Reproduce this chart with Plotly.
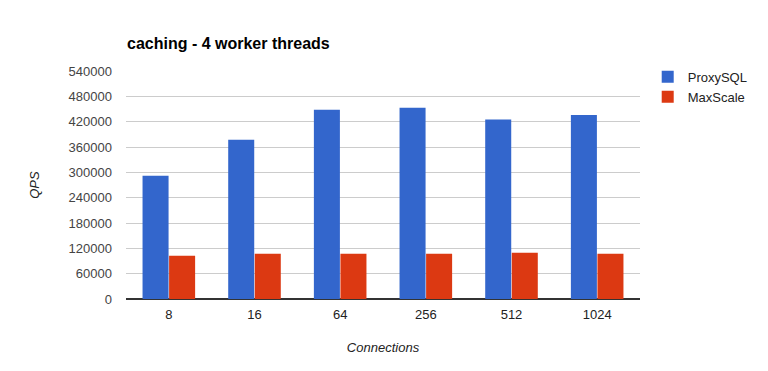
import plotly.graph_objects as go

categories = ["8", "16", "64", "256", "512", "1024"]
proxysql = [292000, 377000, 448000, 453000, 425000, 436000]
maxscale = [102500, 107000, 107000, 107000, 109500, 107000]
y_ticks = [0, 60000, 120000, 180000, 240000, 300000, 360000, 420000, 480000, 540000]

fig = go.Figure()
fig.add_trace(go.Bar(x=categories, y=proxysql, name="ProxySQL", marker_color="#3366cc", marker_line_width=0))
fig.add_trace(go.Bar(x=categories, y=maxscale, name="MaxScale", marker_color="#dc3912", marker_line_width=0))

fig.update_layout(
    width=768, height=371,
    margin=dict(l=126, r=128, t=71, b=72),
    paper_bgcolor="white", plot_bgcolor="white",
    font=dict(family="Arial, Liberation Sans", size=13, color="#444"),
    title=dict(text="<b>caching - 4 worker threads</b>", x=127/768, xanchor="left",
               y=1 - 43/371, yanchor="middle", font=dict(size=16, color="#000")),
    barmode="group", bargap=0.38, bargroupgap=0.02,
    showlegend=True,
    legend=dict(x=1.015, xanchor="left", y=1.04, yanchor="top",
                font=dict(size=13, color="#222"), bgcolor="rgba(0,0,0,0)",
                itemwidth=30, tracegroupgap=2),
    xaxis=dict(type="category", showgrid=False, showline=False, ticks="",
               tickfont=dict(size=13, color="#222"), ticklabelstandoff=6,
               title=dict(text="<i>Connections</i>", font=dict(size=13, color="#222"), standoff=21)),
    yaxis=dict(range=[0, 540000], tickvals=y_ticks, ticktext=[str(v) for v in y_ticks],
               showgrid=True, gridcolor="#cccccc", gridwidth=1,
               zeroline=True, zerolinecolor="#333333", zerolinewidth=1.5,
               tickfont=dict(size=13, color="#444"), ticks="", ticklen=0,
               ticklabelstandoff=13,
               title=dict(text="<i>QPS</i>", font=dict(size=13, color="#222"), standoff=26)),
)

fig.write_html("out.html")
